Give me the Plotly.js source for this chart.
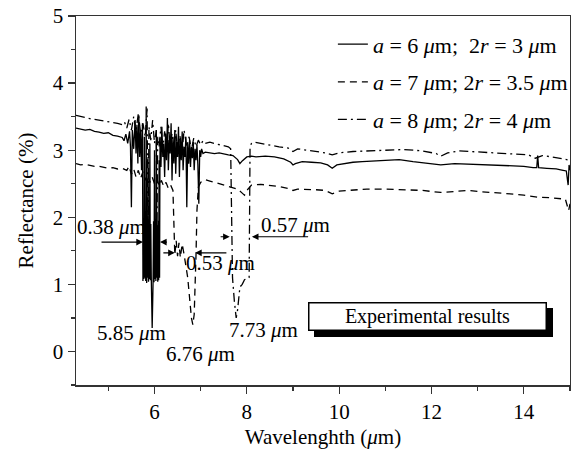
<!DOCTYPE html>
<html>
<head>
<meta charset="utf-8">
<script src="https://cdn.plot.ly/plotly-3.0.1.min.js"></script>
<style>html,body{margin:0;padding:0;background:#fff;}#chart{width:571px;height:452px;}</style>
</head>
<body>
<div id="chart"></div>
<script>
// ---- Data ----
const seriesNames = [
  "<i>a</i> = 6 <i>μ</i>m;&nbsp;&nbsp;2<i>r</i> = 3 <i>μ</i>m",
  "<i>a</i> = 7 <i>μ</i>m; 2<i>r</i> = 3.5 <i>μ</i>m",
  "<i>a</i> = 8 <i>μ</i>m; 2<i>r</i> = 4 <i>μ</i>m"
];

// a = 6 µm, 2r = 3 µm (solid)
const xSolid = [4.3,4.4,4.5,4.6,4.7,4.8,4.9,5.0,5.1,5.2,5.3,5.34,5.38,5.42,5.46,5.48,5.50,5.52,5.55,5.58,5.60,5.62,5.64,5.66,5.68,5.70,5.72,5.74,5.75,5.76,5.77,5.78,5.79,5.80,5.81,5.82,5.83,5.84,5.85,5.86,5.87,5.88,5.89,5.90,5.91,5.92,5.93,5.95,5.97,5.98,5.99,6.00,6.01,6.02,6.03,6.04,6.05,6.06,6.07,6.08,6.09,6.10,6.11,6.12,6.14,6.16,6.18,6.20,6.22,6.24,6.26,6.28,6.30,6.32,6.34,6.36,6.38,6.40,6.42,6.44,6.46,6.48,6.50,6.52,6.54,6.56,6.58,6.60,6.62,6.64,6.66,6.68,6.70,6.72,6.74,6.76,6.78,6.80,6.82,6.84,6.86,6.88,6.90,6.92,6.94,6.96,6.98,7.00,7.02,7.05,7.1,7.2,7.3,7.4,7.5,7.6,7.7,7.8,7.85,7.9,8.0,8.1,8.2,8.4,8.6,8.8,8.95,9.0,9.05,9.2,9.4,9.6,9.75,9.85,9.95,10.1,10.3,10.5,10.8,11.0,11.3,11.6,11.9,12.2,12.5,12.8,13.1,13.4,13.7,14.0,14.2,14.28,14.3,14.32,14.5,14.7,14.85,14.92,14.96,14.98,15.0];
const ySolid = [3.33,3.32,3.30,3.31,3.28,3.27,3.25,3.26,3.22,3.21,3.19,3.14,3.24,3.10,3.28,3.05,2.15,3.30,3.02,3.45,2.95,3.38,2.80,3.52,2.90,3.30,2.70,3.40,1.05,1.90,1.08,3.20,1.10,1.95,1.05,3.65,1.02,1.92,1.10,2.90,1.04,1.95,1.08,3.10,1.06,1.90,1.12,0.35,1.05,1.94,1.03,3.00,1.08,1.92,1.05,3.30,1.10,1.88,1.04,1.95,1.06,2.85,1.10,3.20,2.75,3.35,2.90,3.10,2.60,3.25,2.85,3.48,2.70,3.15,2.95,3.40,2.55,3.20,2.80,3.30,2.65,3.12,2.90,3.35,2.60,3.18,2.85,3.28,2.70,3.05,2.90,3.20,2.15,3.10,2.80,3.15,2.75,3.05,2.88,3.12,2.70,3.02,2.85,3.08,2.78,2.20,3.00,2.90,3.02,2.95,2.97,2.96,2.95,2.96,2.94,2.93,2.92,2.86,2.80,2.84,2.90,2.91,2.90,2.91,2.90,2.87,2.82,2.78,2.80,2.83,2.82,2.81,2.78,2.73,2.78,2.80,2.82,2.83,2.84,2.85,2.86,2.83,2.80,2.78,2.80,2.79,2.78,2.78,2.77,2.76,2.74,2.74,2.92,2.74,2.73,2.72,2.70,2.69,2.48,2.78,2.70];

// a = 7 µm, 2r = 3.5 µm (dashed)
const xDash = [4.3,4.4,4.5,4.6,4.7,4.8,4.9,5.0,5.1,5.2,5.3,5.4,5.45,5.50,5.55,5.60,5.65,5.70,5.75,5.80,5.85,5.90,5.95,6.00,6.05,6.10,6.15,6.20,6.25,6.30,6.35,6.40,6.44,6.47,6.50,6.53,6.56,6.60,6.64,6.68,6.72,6.76,6.80,6.83,6.86,6.90,6.92,6.95,7.00,7.05,7.10,7.20,7.30,7.40,7.50,7.60,7.70,7.80,7.90,7.95,8.00,8.10,8.3,8.5,8.7,8.9,9.0,9.1,9.3,9.5,9.7,9.85,10.0,10.3,10.6,11.0,11.4,11.8,12.2,12.5,12.8,13.1,13.4,13.7,14.0,14.3,14.6,14.9,14.97,15.0];
const yDash = [2.80,2.78,2.79,2.77,2.76,2.76,2.74,2.73,2.74,2.72,2.73,2.70,2.76,2.64,2.72,2.60,2.70,2.58,2.68,2.55,2.64,2.52,2.60,2.50,2.58,2.47,2.55,2.46,2.52,2.43,2.48,2.40,1.44,1.65,1.42,1.62,1.40,1.60,1.45,1.25,1.10,0.80,0.50,0.40,0.55,1.45,2.10,2.45,2.52,2.55,2.56,2.54,2.52,2.50,2.48,2.46,2.45,2.42,2.36,2.33,2.40,2.48,2.49,2.48,2.46,2.43,2.40,2.42,2.42,2.41,2.40,2.35,2.39,2.41,2.42,2.42,2.41,2.40,2.37,2.39,2.40,2.38,2.37,2.35,2.33,2.30,2.29,2.27,2.10,2.20];

// a = 8 µm, 2r = 4 µm (dash-dot)
const xDashDot = [4.3,4.4,4.5,4.6,4.7,4.8,4.9,5.0,5.1,5.2,5.3,5.35,5.40,5.45,5.50,5.55,5.60,5.65,5.70,5.75,5.80,5.84,5.86,5.88,5.92,5.96,6.00,6.04,6.05,6.07,6.10,6.14,6.18,6.22,6.26,6.30,6.34,6.38,6.42,6.46,6.50,6.55,6.60,6.64,6.70,6.75,6.80,6.85,6.90,6.95,7.00,7.05,7.10,7.20,7.30,7.40,7.50,7.60,7.65,7.67,7.69,7.73,7.77,7.80,7.85,7.90,7.95,8.05,8.07,8.10,8.15,8.3,8.5,8.7,8.9,9.0,9.1,9.3,9.5,9.7,9.85,10.0,10.3,10.6,11.0,11.4,11.8,12.1,12.2,12.35,12.6,12.9,13.2,13.5,13.8,14.1,14.25,14.4,14.6,14.8,15.0];
const yDashDot = [3.52,3.50,3.49,3.47,3.46,3.45,3.44,3.42,3.41,3.40,3.38,3.42,3.33,3.46,3.30,3.50,3.28,3.55,3.25,3.40,3.20,3.62,1.60,3.35,3.15,3.45,3.10,3.30,1.40,3.20,3.05,3.35,3.00,3.28,3.02,3.40,3.05,3.25,2.95,3.30,3.00,3.22,2.98,3.30,3.05,3.20,3.00,3.18,3.05,3.15,3.08,3.14,3.10,3.12,3.10,3.08,3.07,3.05,3.02,2.10,1.10,0.75,0.50,0.62,0.96,1.00,1.07,1.10,3.05,3.10,3.12,3.10,3.07,3.05,3.03,2.98,3.02,3.00,2.98,2.96,2.93,2.96,2.98,2.99,3.00,3.01,2.99,2.95,2.91,2.96,2.99,2.98,2.97,2.96,2.95,2.93,2.88,2.92,2.90,2.87,2.85];

// tick values
const xTickVals = [6, 8, 10, 12, 14];
const xTickText = ["6", "8", "10", "12", "14"];
const yTickVals = [0, 1, 2, 3, 4, 5];

// ---- Plot ----
const FONT = "Liberation Serif, Times New Roman, serif";
const lineW = 1.3;
const traces = [
  {x: xSolid, y: ySolid, name: seriesNames[0], legendgroup: "g1", mode: "lines",
   line: {color: "#000", width: lineW, dash: "solid"}},
  {x: xDash, y: yDash, name: seriesNames[1], legendgroup: "g2", mode: "lines",
   line: {color: "#000", width: lineW, dash: "7px,5px"}},
  {x: xDashDot, y: yDashDot, name: seriesNames[2], legendgroup: "g3", mode: "lines",
   line: {color: "#000", width: lineW, dash: "9px,4px,2px,4px"}}
];

const mu = "<i>μ</i>m";
const txt = (t, x, y) => ({text: t, x: x, y: y, xref: "x", yref: "y", showarrow: false,
  font: {family: FONT, size: 21, color: "#000"}});
const arr = (x, y, ax, ay) => ({text: "", x: x, y: y, ax: ax, ay: ay, xref: "x", yref: "y",
  axref: "x", ayref: "y", showarrow: true, arrowhead: 2, arrowsize: 1.1, arrowwidth: 1.2,
  arrowcolor: "#000", standoff: 0, startstandoff: 0});

const annotations = [
  txt("0.38 " + mu, 5.06, 1.86),
  txt("0.53 " + mu, 7.42, 1.32),
  txt("0.57 " + mu, 9.06, 1.89),
  txt("5.85 " + mu, 5.51, 0.28),
  txt("6.76 " + mu, 7.00, -0.04),
  txt("7.73 " + mu, 8.36, 0.32),
  arr(5.75, 1.63, 4.82, 1.63),
  arr(6.12, 1.63, 6.30, 1.63),
  arr(6.44, 1.47, 6.16, 1.47),
  arr(6.88, 1.47, 7.59, 1.47),
  arr(7.63, 1.71, 7.40, 1.71),
  arr(8.11, 1.71, 9.36, 1.71),
  // shadow of the "Experimental results" box
  {text: " ", x: 11.92, y: 0.52, xref: "x", yref: "y", showarrow: false,
   xshift: 6, yshift: -6, width: 234, height: 24, bgcolor: "#000", bordercolor: "#000",
   borderwidth: 1.5, borderpad: 1, font: {family: FONT, size: 20, color: "#000"}},
  {text: "Experimental results", x: 11.92, y: 0.52, xref: "x", yref: "y", showarrow: false,
   width: 234, height: 24, bgcolor: "#fff", bordercolor: "#000", borderwidth: 1.5,
   borderpad: 1, font: {family: FONT, size: 20, color: "#000"}}
];

const axisCommon = {
  showline: true, mirror: true, linecolor: "#333", linewidth: 1.5,
  showgrid: false, zeroline: false, ticks: "outside", ticklen: 7, tickwidth: 1.2,
  tickcolor: "#333", tickfont: {family: FONT, size: 21, color: "#000"}
};

const layout = {
  width: 571, height: 452,
  margin: {l: 76, r: 1, t: 16, b: 67, autoexpand: false},
  paper_bgcolor: "#fff", plot_bgcolor: "#fff",
  font: {family: FONT, color: "#000"},
  xaxis: Object.assign({}, axisCommon, {
    range: [4.3, 15], tickvals: xTickVals, ticktext: xTickText, automargin: false,
    minor: {dtick: 1, tick0: 0, ticks: "outside", ticklen: 4, tickcolor: "#333", tickwidth: 1.2},
    title: {text: "Wavelenghth (<i>μ</i>m)", font: {family: FONT, size: 21, color: "#000"}, standoff: 6}
  }),
  yaxis: Object.assign({}, axisCommon, {
    range: [-0.5, 5], tickvals: yTickVals, automargin: false,
    minor: {dtick: 0.5, tick0: 0, ticks: "outside", ticklen: 4, tickcolor: "#333", tickwidth: 1.2},
    title: {text: "Reflectance (%)", font: {family: FONT, size: 21, color: "#000"}, standoff: 13}
  }),
  showlegend: true,
  legend: {x: 0.52, y: 0.98, xanchor: "left", yanchor: "top", bgcolor: "rgba(0,0,0,0)",
    borderwidth: 0, traceorder: "grouped", tracegroupgap: 6,
    font: {family: FONT, size: 22, color: "#000"}},
  annotations: annotations
};

Plotly.newPlot("chart", traces, layout, {displayModeBar: false, staticPlot: true});
</script>
</body>
</html>
